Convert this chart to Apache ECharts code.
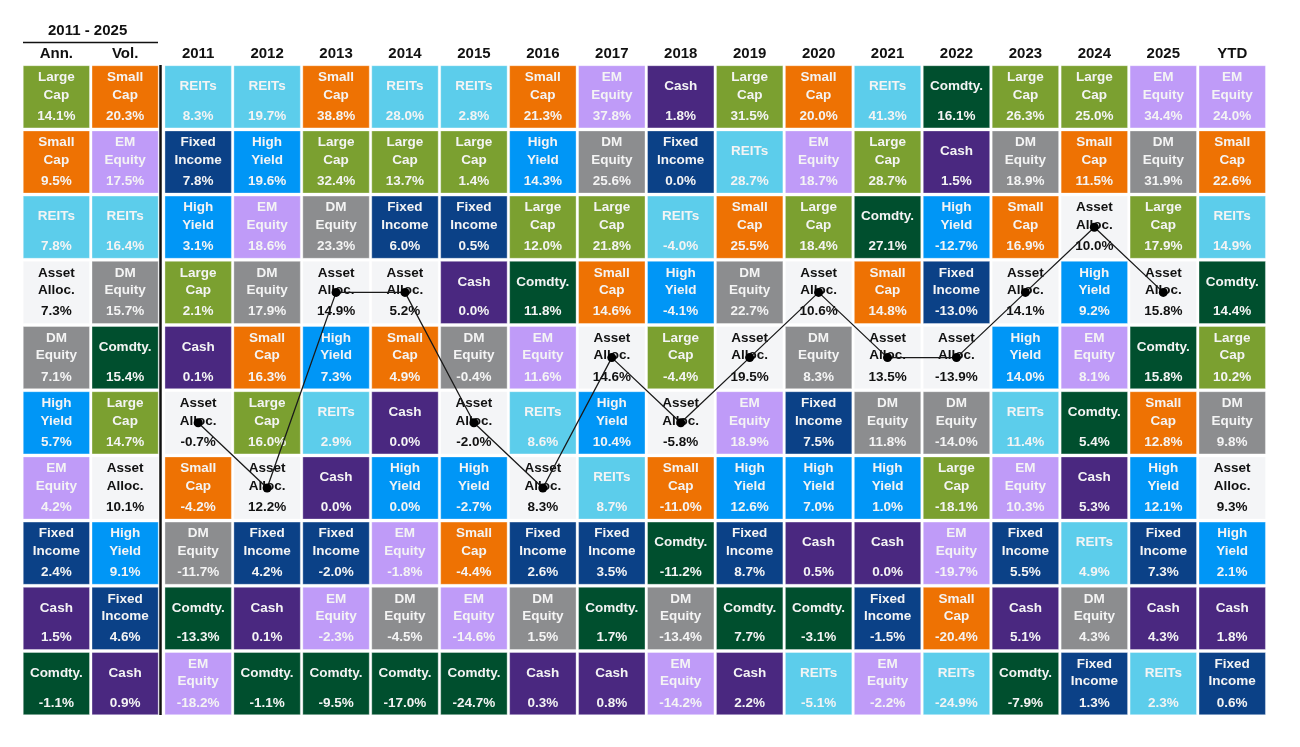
<!DOCTYPE html>
<html>
<head>
<meta charset="utf-8">
<script src="https://cdn.jsdelivr.net/npm/echarts@6/dist/echarts.min.js"></script>
<style>
  html, body { margin: 0; padding: 0; background: #fff; }
  #container { width: 1300px; height: 747px; }
</style>
</head>
<body>
<div id="container"></div>
<script>
// ---- data: each column ranked top to bottom ----
const summaryCols = ['Ann.', 'Vol.'];
const yearCols = ['2011', '2012', '2013', '2014', '2015', '2016', '2017', '2018',
                  '2019', '2020', '2021', '2022', '2023', '2024', '2025', 'YTD'];
const rowLabels = ['1', '2', '3', '4', '5', '6', '7', '8', '9', '10'];

const colAnn = [['Large Cap', 14.1], ['Small Cap', 9.5], ['REITs', 7.8], ['Asset Alloc.', 7.3], ['DM Equity', 7.1],
                ['High Yield', 5.7], ['EM Equity', 4.2], ['Fixed Income', 2.4], ['Cash', 1.5], ['Comdty.', -1.1]];
const colVol = [['Small Cap', 20.3], ['EM Equity', 17.5], ['REITs', 16.4], ['DM Equity', 15.7], ['Comdty.', 15.4],
                ['Large Cap', 14.7], ['Asset Alloc.', 10.1], ['High Yield', 9.1], ['Fixed Income', 4.6], ['Cash', 0.9]];

const col2011 = [['REITs', 8.3], ['Fixed Income', 7.8], ['High Yield', 3.1], ['Large Cap', 2.1], ['Cash', 0.1],
                 ['Asset Alloc.', -0.7], ['Small Cap', -4.2], ['DM Equity', -11.7], ['Comdty.', -13.3], ['EM Equity', -18.2]];
const col2012 = [['REITs', 19.7], ['High Yield', 19.6], ['EM Equity', 18.6], ['DM Equity', 17.9], ['Small Cap', 16.3],
                 ['Large Cap', 16.0], ['Asset Alloc.', 12.2], ['Fixed Income', 4.2], ['Cash', 0.1], ['Comdty.', -1.1]];
const col2013 = [['Small Cap', 38.8], ['Large Cap', 32.4], ['DM Equity', 23.3], ['Asset Alloc.', 14.9], ['High Yield', 7.3],
                 ['REITs', 2.9], ['Cash', 0.0], ['Fixed Income', -2.0], ['EM Equity', -2.3], ['Comdty.', -9.5]];
const col2014 = [['REITs', 28.0], ['Large Cap', 13.7], ['Fixed Income', 6.0], ['Asset Alloc.', 5.2], ['Small Cap', 4.9],
                 ['Cash', 0.0], ['High Yield', 0.0], ['EM Equity', -1.8], ['DM Equity', -4.5], ['Comdty.', -17.0]];
const col2015 = [['REITs', 2.8], ['Large Cap', 1.4], ['Fixed Income', 0.5], ['Cash', 0.0], ['DM Equity', -0.4],
                 ['Asset Alloc.', -2.0], ['High Yield', -2.7], ['Small Cap', -4.4], ['EM Equity', -14.6], ['Comdty.', -24.7]];
const col2016 = [['Small Cap', 21.3], ['High Yield', 14.3], ['Large Cap', 12.0], ['Comdty.', 11.8], ['EM Equity', 11.6],
                 ['REITs', 8.6], ['Asset Alloc.', 8.3], ['Fixed Income', 2.6], ['DM Equity', 1.5], ['Cash', 0.3]];
const col2017 = [['EM Equity', 37.8], ['DM Equity', 25.6], ['Large Cap', 21.8], ['Small Cap', 14.6], ['Asset Alloc.', 14.6],
                 ['High Yield', 10.4], ['REITs', 8.7], ['Fixed Income', 3.5], ['Comdty.', 1.7], ['Cash', 0.8]];
const col2018 = [['Cash', 1.8], ['Fixed Income', 0.0], ['REITs', -4.0], ['High Yield', -4.1], ['Large Cap', -4.4],
                 ['Asset Alloc.', -5.8], ['Small Cap', -11.0], ['Comdty.', -11.2], ['DM Equity', -13.4], ['EM Equity', -14.2]];
const col2019 = [['Large Cap', 31.5], ['REITs', 28.7], ['Small Cap', 25.5], ['DM Equity', 22.7], ['Asset Alloc.', 19.5],
                 ['EM Equity', 18.9], ['High Yield', 12.6], ['Fixed Income', 8.7], ['Comdty.', 7.7], ['Cash', 2.2]];
const col2020 = [['Small Cap', 20.0], ['EM Equity', 18.7], ['Large Cap', 18.4], ['Asset Alloc.', 10.6], ['DM Equity', 8.3],
                 ['Fixed Income', 7.5], ['High Yield', 7.0], ['Cash', 0.5], ['Comdty.', -3.1], ['REITs', -5.1]];
const col2021 = [['REITs', 41.3], ['Large Cap', 28.7], ['Comdty.', 27.1], ['Small Cap', 14.8], ['Asset Alloc.', 13.5],
                 ['DM Equity', 11.8], ['High Yield', 1.0], ['Cash', 0.0], ['Fixed Income', -1.5], ['EM Equity', -2.2]];
const col2022 = [['Comdty.', 16.1], ['Cash', 1.5], ['High Yield', -12.7], ['Fixed Income', -13.0], ['Asset Alloc.', -13.9],
                 ['DM Equity', -14.0], ['Large Cap', -18.1], ['EM Equity', -19.7], ['Small Cap', -20.4], ['REITs', -24.9]];
const col2023 = [['Large Cap', 26.3], ['DM Equity', 18.9], ['Small Cap', 16.9], ['Asset Alloc.', 14.1], ['High Yield', 14.0],
                 ['REITs', 11.4], ['EM Equity', 10.3], ['Fixed Income', 5.5], ['Cash', 5.1], ['Comdty.', -7.9]];
const col2024 = [['Large Cap', 25.0], ['Small Cap', 11.5], ['Asset Alloc.', 10.0], ['High Yield', 9.2], ['EM Equity', 8.1],
                 ['Comdty.', 5.4], ['Cash', 5.3], ['REITs', 4.9], ['DM Equity', 4.3], ['Fixed Income', 1.3]];
const col2025 = [['EM Equity', 34.4], ['DM Equity', 31.9], ['Large Cap', 17.9], ['Asset Alloc.', 15.8], ['Comdty.', 15.8],
                 ['Small Cap', 12.8], ['High Yield', 12.1], ['Fixed Income', 7.3], ['Cash', 4.3], ['REITs', 2.3]];
const colYTD = [['EM Equity', 24.0], ['Small Cap', 22.6], ['REITs', 14.9], ['Comdty.', 14.4], ['Large Cap', 10.2],
                ['DM Equity', 9.8], ['Asset Alloc.', 9.3], ['High Yield', 2.1], ['Cash', 1.8], ['Fixed Income', 0.6]];

const summaryData = [colAnn, colVol];
const yearData = [col2011, col2012, col2013, col2014, col2015, col2016, col2017, col2018,
                  col2019, col2020, col2021, col2022, col2023, col2024, col2025, colYTD];

// ---- styling ----
const assetColor = {
    'Large Cap': '#7ba030',
    'Small Cap': '#ee7203',
    'REITs': '#5ccdeb',
    'Fixed Income': '#0b4187',
    'High Yield': '#0096f6',
    'EM Equity': '#bf9bf8',
    'DM Equity': '#8c8d8f',
    'Cash': '#4a2880',
    'Comdty.': '#004f2e',
    'Asset Alloc.': '#f4f5f7'
};
const assetLines = {
    'Large Cap': ['Large', 'Cap'],
    'Small Cap': ['Small', 'Cap'],
    'REITs': ['REITs'],
    'Fixed Income': ['Fixed', 'Income'],
    'High Yield': ['High', 'Yield'],
    'EM Equity': ['EM', 'Equity'],
    'DM Equity': ['DM', 'Equity'],
    'Cash': ['Cash'],
    'Comdty.': ['Comdty.'],
    'Asset Alloc.': ['Asset', 'Alloc.']
};
const FONT = 'bold 13.5px "Liberation Sans", Arial, sans-serif';

function buildCells(cols) {
    const out = [];
    cols.forEach(function (col, ci) {
        col.forEach(function (cell, ri) {
            out.push({ value: [ci, ri], asset: cell[0], ret: cell[1] });
        });
    });
    return out;
}

function makeRender(cells) {
    return function (params, api) {
        const item = cells[params.dataIndex];
        const c = api.coord([api.value(0), api.value(1)]);
        const s = api.size([1, 1]);
        const w = s[0] - 2.5, h = s[1] - 3;
        const x0 = c[0] - w / 2, y0 = c[1] - h / 2;
        const isAA = item.asset === 'Asset Alloc.';
        const txtColor = isAA ? '#111' : '#f4f4f4';
        const lines = assetLines[item.asset];
        const children = [{
            type: 'rect',
            shape: { x: x0, y: y0, width: w, height: h },
            style: { fill: assetColor[item.asset], stroke: 'rgba(255,255,255,0.35)', lineWidth: 1 }
        }];
        const ys = lines.length === 2 ? [0.185, 0.47] : [0.33];
        lines.forEach(function (t, i) {
            children.push({
                type: 'text',
                style: { text: t, x: c[0], y: y0 + h * ys[i], fill: txtColor, font: FONT,
                         align: 'center', verticalAlign: 'middle' }
            });
        });
        children.push({
            type: 'text',
            style: { text: item.ret.toFixed(1) + '%', x: c[0], y: y0 + h * 0.81, fill: txtColor, font: FONT,
                     align: 'center', verticalAlign: 'middle' }
        });
        return { type: 'group', children: children };
    };
}

const summaryCells = buildCells(summaryData);
const yearCells = buildCells(yearData);

// Asset allocation path across calendar years (not YTD)
const aaPath = [];
yearData.forEach(function (col, ci) {
    if (yearCols[ci] === 'YTD') return;
    col.forEach(function (cell, ri) {
        if (cell[0] === 'Asset Alloc.') aaPath.push([ci, ri]);
    });
});

const chart = echarts.init(document.getElementById('container'));

const hidden = { show: false };
const headerLabel = { show: true, color: '#111', fontWeight: 'bold', fontSize: 15,
                      fontFamily: '"Liberation Sans", Arial, sans-serif', margin: 3 };

chart.setOption({
    backgroundColor: '#fff',
    animation: false,
    grid: [
        { left: 22, top: 64.2, width: 137.5, height: 652 },
        { left: 163.7, top: 64.2, width: 1103, height: 652 }
    ],
    xAxis: [
        { type: 'category', gridIndex: 0, data: summaryCols, position: 'top',
          axisLine: hidden, axisTick: hidden, splitLine: hidden, axisLabel: headerLabel },
        { type: 'category', gridIndex: 1, data: yearCols, position: 'top',
          axisLine: hidden, axisTick: hidden, splitLine: hidden, axisLabel: headerLabel }
    ],
    yAxis: [
        { type: 'category', gridIndex: 0, data: rowLabels, inverse: true,
          axisLine: hidden, axisTick: hidden, splitLine: hidden, axisLabel: hidden },
        { type: 'category', gridIndex: 1, data: rowLabels, inverse: true,
          axisLine: hidden, axisTick: hidden, splitLine: hidden, axisLabel: hidden }
    ],
    graphic: [
        { type: 'text', left: 48, top: 23,
          style: { text: '2011 - 2025', fill: '#111', font: 'bold 15px "Liberation Sans", Arial, sans-serif' } },
        { type: 'line', shape: { x1: 23, y1: 42.5, x2: 158, y2: 42.5 },
          style: { stroke: '#111', lineWidth: 1.6 } },
        { type: 'line', shape: { x1: 160.5, y1: 65, x2: 160.5, y2: 715 },
          style: { stroke: '#111', lineWidth: 2.5 }, z: 10 }
    ],
    series: [
        { type: 'custom', xAxisIndex: 0, yAxisIndex: 0, renderItem: makeRender(summaryCells),
          data: summaryCells, silent: true },
        { type: 'custom', xAxisIndex: 1, yAxisIndex: 1, renderItem: makeRender(yearCells),
          data: yearCells, silent: true },
        { type: 'line', xAxisIndex: 1, yAxisIndex: 1, data: aaPath, z: 5,
          symbol: 'circle', symbolSize: 9,
          lineStyle: { color: '#1a1a1a', width: 1.3 },
          itemStyle: { color: '#000' } }
    ]
});
</script>
</body>
</html>
